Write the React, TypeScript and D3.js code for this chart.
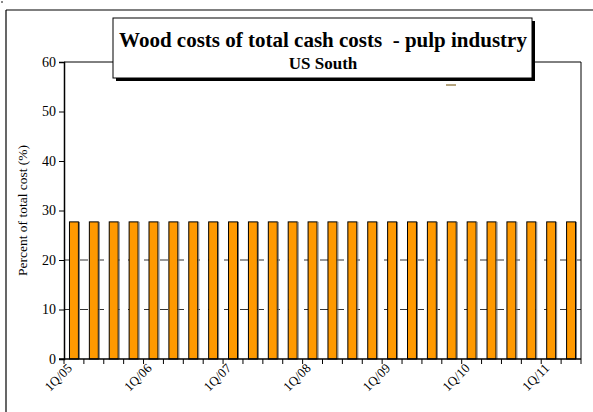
import React, { useEffect, useRef } from 'react';
import * as d3 from 'd3';

const years = ['05', '06', '07', '08', '09', '10', '11'];
const quarters = years.flatMap(y => ['1', '2', '3', '4'].map(q => `${q}Q/${y}`)).slice(0, 26);
const woodShare = [
  27.7, 27.7, 27.7, 27.7, 27.7, 27.7, 27.7, 27.7, 27.7, 27.7, 27.7, 27.7, 27.7,
  27.7, 27.7, 27.7, 27.7, 27.7, 27.7, 27.7, 27.7, 27.7, 27.7, 27.7, 27.7, 27.7,
];
const yTicks = [0, 10, 20, 30, 40, 50, 60];
const gridValues = [10, 20];

const FONT = "'Liberation Serif', 'Times New Roman', serif";

const App = () => {
  const ref = useRef<SVGSVGElement>(null);

  useEffect(() => {
    const svg = d3.select(ref.current);
    svg.selectAll('*').remove();

    const left = 64, right = 581, top = 62, bottom = 359;

    // outer frame (only top and left show)
    svg.append('line').attr('x1', 6).attr('x2', 593).attr('y1', 10).attr('y2', 10)
      .attr('stroke', '#000').attr('stroke-width', 1.2);
    svg.append('line').attr('x1', 6).attr('x2', 6).attr('y1', 10).attr('y2', 412)
      .attr('stroke', '#000').attr('stroke-width', 1.2);
    svg.append('rect').attr('x', 1).attr('y', 1).attr('width', 2).attr('height', 2).attr('fill', '#888');

    const x = d3.scaleBand().domain(quarters).range([left, right]);
    const y = d3.scaleLinear().domain([0, 60]).range([bottom, top]);

    // plot area border top / right
    svg.append('path')
      .attr('d', `M${left},${top}H${right}V${bottom}`)
      .attr('fill', 'none').attr('stroke', '#000').attr('stroke-width', 1);

    svg.selectAll('.grid').data(gridValues).enter().append('line')
      .attr('x1', left).attr('x2', right)
      .attr('y1', d => y(d)).attr('y2', d => y(d))
      .attr('stroke', '#000').attr('stroke-width', 0.8)
      .attr('stroke-dasharray', '8,8');

    const bw = x.bandwidth() * 0.45;
    const bars = svg.selectAll('.bar').data(woodShare).enter().append('g');
    bars.append('rect')
      .attr('x', (d, i) => x(quarters[i])! + (x.bandwidth() - bw) / 2)
      .attr('y', d => y(d))
      .attr('width', bw)
      .attr('height', d => bottom - y(d))
      .attr('fill', '#FF9900')
      .attr('stroke', '#000').attr('stroke-width', 1);
    bars.append('line')
      .attr('x1', (d, i) => x(quarters[i])! + (x.bandwidth() + bw) / 2 + 1)
      .attr('x2', (d, i) => x(quarters[i])! + (x.bandwidth() + bw) / 2 + 1)
      .attr('y1', d => y(d)).attr('y2', bottom)
      .attr('stroke', '#777').attr('stroke-width', 1);

    // y axis
    const ya = svg.append('g').attr('transform', `translate(${left},0)`)
      .call(d3.axisLeft(y).tickValues(yTicks).tickSize(5).tickPadding(3));
    ya.attr('font-family', FONT).attr('font-size', 14);
    ya.select('.domain').attr('stroke-width', 1.5);
    ya.selectAll('text').attr('font-family', FONT)
      .attr('font-size', 14).attr('fill', '#000');

    // x axis with boundary ticks
    const xa = svg.append('g').attr('transform', `translate(0,${bottom})`);
    xa.append('line').attr('x1', left - 5).attr('x2', right).attr('y1', 0).attr('y2', 0)
      .attr('stroke', '#000').attr('stroke-width', 1.5);
    const bounds = quarters.map(q => x(q)!).concat([right]);
    xa.selectAll('.tk').data(bounds).enter().append('line')
      .attr('x1', d => d).attr('x2', d => d).attr('y1', 0).attr('y2', 5)
      .attr('stroke', '#000').attr('stroke-width', 1);
    xa.selectAll('.lbl').data(quarters.filter((q, i) => i % 4 === 0)).enter().append('text')
      .attr('transform', d => `translate(${x(d)! + x.bandwidth() / 2 - 1},${10}) rotate(-45)`)
      .attr('text-anchor', 'end')
      .attr('font-family', FONT)
      .attr('font-size', 13)
      .text(d => d);

    svg.append('text')
      .attr('transform', `translate(27,${(top + bottom) / 2}) rotate(-90)`)
      .attr('text-anchor', 'middle')
      .attr('font-family', FONT)
      .attr('font-size', 13.5)
      .text('Percent of total cost (%)');

    // stray legend dash
    svg.append('line').attr('x1', 446).attr('x2', 456).attr('y1', 85).attr('y2', 85)
      .attr('stroke', '#6b4a00').attr('stroke-width', 1);

    // title box with shadow
    svg.append('rect').attr('x', 116).attr('y', 21).attr('width', 419).attr('height', 60).attr('fill', '#000');
    svg.append('rect').attr('x', 113).attr('y', 18).attr('width', 419).attr('height', 60)
      .attr('fill', '#fff').attr('stroke', '#000').attr('stroke-width', 1);
    svg.append('text').attr('x', 323).attr('y', 47).attr('text-anchor', 'middle')
      .attr('font-family', FONT)
      .attr('font-weight', 'bold').attr('font-size', 21)
      .text('Wood costs of total cash costs  - pulp industry')
      .attr('xml:space', 'preserve').style('white-space', 'pre');
    svg.append('text').attr('x', 323).attr('y', 69).attr('text-anchor', 'middle')
      .attr('font-family', FONT)
      .attr('font-weight', 'bold').attr('font-size', 17)
      .text('US South');
  }, []);

  return (
    <div style={{ position: 'absolute', left: 0, top: 0, width: 593, height: 412, background: '#fff' }}>
      <svg ref={ref} width={593} height={412}></svg>
    </div>
  );
};

export default App;
